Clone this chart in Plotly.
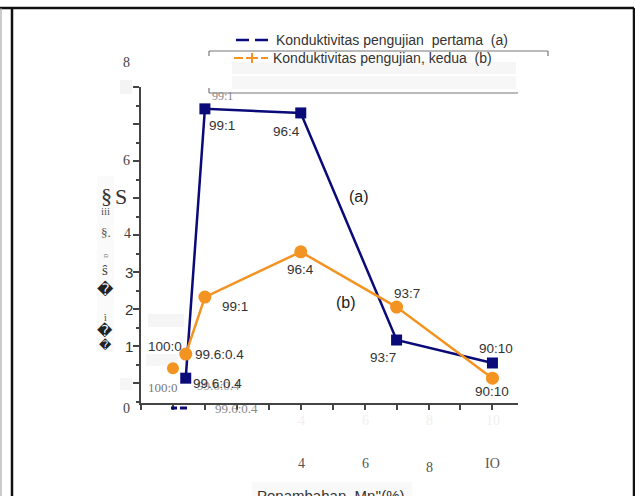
import plotly.graph_objects as go

# ---------------- data ----------------
a_x = [0.4, 1, 4, 7, 10]
a_y = [0.14, 7.41, 7.30, 1.17, 0.55]
a_labels = ["99.6:0.4", "99:1", "96:4", "93:7", "90:10"]

b_x = [0, 0.4, 1, 4, 7, 10]
b_y = [0.41, 0.79, 2.33, 3.55, 2.06, 0.14]
b_labels = ["100:0", "99.6:0.4", "99:1", "96:4", "93:7", "90:10"]

legend_a = "Konduktivitas pengujian  pertama  (a)"
legend_b = "Konduktivitas pengujian, kedua  (b)"
x_title = "Penambahan  Mn''(%)"

NAVY = "#0a0a78"
ORANGE = "#f39321"
SANS = "Liberation Sans, Arial, sans-serif"
SERIF = "Liberation Serif, Times New Roman, serif"

W, H = 635, 496
L, R, T, B = 141, 117, 87, 93
PW, PH = W - L - R, H - T - B


def PX(x):
    return (x - L) / PW


def PY(y):
    return (H - B - y) / PH


fig = go.Figure()

# series (a)
fig.add_trace(go.Scatter(x=a_x, y=a_y, mode="lines+markers",
                         line=dict(color=NAVY, width=2.5),
                         marker=dict(symbol="square", size=11, color=NAVY),
                         showlegend=False, cliponaxis=False))
# series (b): line from 99.6:0.4 onward, 100:0 marker isolated
fig.add_trace(go.Scatter(x=b_x[1:], y=b_y[1:], mode="lines+markers",
                         line=dict(color=ORANGE, width=2.5),
                         marker=dict(symbol="circle", size=13, color=ORANGE),
                         showlegend=False, cliponaxis=False))
fig.add_trace(go.Scatter(x=b_x[:1], y=b_y[:1], mode="markers",
                         marker=dict(symbol="circle", size=12, color=ORANGE),
                         showlegend=False, cliponaxis=False))

ann = []


def lab(x, y, text, xs, ys, size=13.5, color="#333", font=SANS):
    ann.append(dict(x=x, y=y, xref="x", yref="y", text=text, showarrow=False,
                    xshift=xs, yshift=ys, font=dict(family=font, size=size, color=color),
                    xanchor="center", yanchor="middle"))


def ptxt(px, py, text, size=13, color="#333", font=SANS, angle=0, xanchor="center"):
    ann.append(dict(x=PX(px), y=PY(py), xref="paper", yref="paper", text=text,
                    showarrow=False, textangle=angle,
                    font=dict(family=font, size=size, color=color),
                    xanchor=xanchor, yanchor="middle"))


# point labels series (a)
a_shift = [(32, -5), (17, -17), (-14, -19), (-14, -17), (4, 14)]
lab(a_x[0], a_y[0], a_labels[0], 33, -7, color="#999", font=SERIF, size=13)
for x, y, t, (xs, ys) in zip(a_x, a_y, a_labels, a_shift):
    lab(x, y, t, xs, ys)

# point labels series (b)
b_shift = [(-8, 22), (34, 0), (30, -9), (0, -18), (10, 14), (0, -13)]
for x, y, t, (xs, ys) in zip(b_x, b_y, b_labels, b_shift):
    lab(x, y, t, xs, ys)
lab(b_x[0], b_y[0], b_labels[0], -10, -19, color="#777", font=SERIF, size=13)

ptxt(359, 196, "(a)", size=16, color="#222")
ptxt(346, 302, "(b)", size=16, color="#222")

# stray serif texts
ptxt(222, 96, "99:1", size=12, color="#888", font=SERIF)
ptxt(213, 408, "99.6:0.4", size=13, color="#888", font=SERIF, xanchor="left")

# y tick labels
ptxt(126, 62, "8", size=14, color="#444", font=SERIF)
ptxt(126, 160, "6", size=14, color="#444", font=SERIF)
ptxt(121, 196, "S", size=22, color="#333", font=SERIF)
ptxt(127, 233, "4", size=14, color="#444", font=SERIF)
ptxt(129, 272, "3", size=15, color="#333")
ptxt(129, 309, "2", size=15, color="#333")
ptxt(129, 346, "1", size=15, color="#333")
ptxt(126, 408, "0", size=14, color="#444", font=SERIF)

# x tick labels
ptxt(301, 463, "4", size=14, color="#555", font=SERIF)
ptxt(365, 463, "6", size=14, color="#555", font=SERIF)
ptxt(429, 467, "8", size=14, color="#555", font=SERIF)
ptxt(492, 463, "IO", size=14, color="#555", font=SERIF)
for gx, gt in [(301, "4"), (365, "6"), (429, "8"), (493, "10")]:
    ptxt(gx, 420, gt, size=14, color="#efefef", font=SERIF)

# garbled y title
ptxt(106, 195, "§", size=22, color="#333", font=SERIF)
ptxt(105, 211, "iii", size=11, color="#555", font=SERIF)
ptxt(106, 232, "§.", size=13, color="#555", font=SERIF)
ptxt(105, 256, "ɒ", size=8, color="#888", font=SERIF, angle=-90)
ptxt(105, 270, "ŝ", size=15, color="#444", font=SERIF)
ptxt(105, 289, "�", size=16, color="#222", font="DejaVu Sans")
ptxt(105, 317, "ì", size=10, color="#444", font=SERIF)
ptxt(105, 331, "�", size=15, color="#222", font="DejaVu Sans")
ptxt(105, 345, "�", size=12, color="#222", font="DejaVu Sans")

# x title (cut at bottom)
ptxt(330, 495, x_title, size=15, color="#333")

# legend text
ptxt(274, 40, legend_a, size=14, color="#333", xanchor="left")
ptxt(271, 58, legend_b, size=14, color="#333", xanchor="left")

shapes = []


def pline(x0, y0, x1, y1, color, width, dash="solid"):
    shapes.append(dict(type="line", xref="paper", yref="paper",
                       x0=PX(x0), y0=PY(y0), x1=PX(x1), y1=PY(y1),
                       line=dict(color=color, width=width, dash=dash)))


def prect(x0, y0, x1, y1, color):
    shapes.append(dict(type="rect", xref="paper", yref="paper", layer="below",
                       x0=PX(x0), y0=PY(y0), x1=PX(x1), y1=PY(y1),
                       line=dict(width=0), fillcolor=color))


# faint ghost blocks
prect(232, 62, 516, 74, "#f6f6f6")
prect(232, 76, 516, 89, "#f7f7f7")
prect(120, 80, 132, 94, "#f4f4f4")
prect(148, 314, 184, 327, "#f5f5f5")
prect(146, 354, 178, 366, "#f6f6f6")
prect(120, 378, 132, 390, "#f6f6f6")
prect(97, 176, 114, 352, "#fafafa")
prect(252, 482, 412, 496, "#f9f9f9")

# outer frame
pline(0, 8, 634, 8, "#111", 2.5)
pline(12, 8, 12, 520, "#111", 2.5)
pline(634, 8, 634, 520, "#111", 2.5)
pline(1, 8, 1, 520, "#999", 1)

# legend box
pline(209, 51, 548, 51, "#777", 1.2)
pline(548, 51, 548, 56, "#777", 1.2)
pline(209, 51, 209, 56, "#777", 1.2)
pline(209, 88, 209, 93, "#777", 1.2)
pline(209, 93, 518, 93, "#777", 1.2)

# legend symbols
pline(236, 40, 249, 40, NAVY, 2.5)
pline(255, 40, 268, 40, NAVY, 2.5)
pline(234, 58, 243, 58, ORANGE, 2)
pline(246, 58, 258, 58, ORANGE, 2)
pline(252, 53, 252, 63, ORANGE, 2)
pline(261, 58, 268, 58, ORANGE, 2)

# bottom navy dashes
pline(171, 408, 177, 408, NAVY, 3)
pline(180, 408, 187, 408, NAVY, 3)

fig.update_layout(
    width=W, height=H, autosize=False,
    margin=dict(l=L, r=R, t=T, b=B, pad=0),
    paper_bgcolor="white", plot_bgcolor="white",
    annotations=ann, shapes=shapes,
    xaxis=dict(range=[-1, 10.8], showgrid=False, zeroline=False,
               showline=True, linecolor="#444", linewidth=1.5,
               ticks="outside", ticklen=5, tickcolor="#444", tickwidth=1.5,
               tick0=0, dtick=1, showticklabels=False),
    yaxis=dict(range=[-0.53, 8], showgrid=False, zeroline=False,
               showline=True, linecolor="#444", linewidth=1.5,
               ticks="outside", ticklen=6, tickcolor="#444", tickwidth=1.5,
               tick0=0, dtick=1, showticklabels=False,
               minor=dict(ticks="outside", ticklen=3, dtick=0.5, tickcolor="#444")),
)

fig.write_html("out.html", config={"displayModeBar": False},
               post_script="document.body.style.margin='0px';")
